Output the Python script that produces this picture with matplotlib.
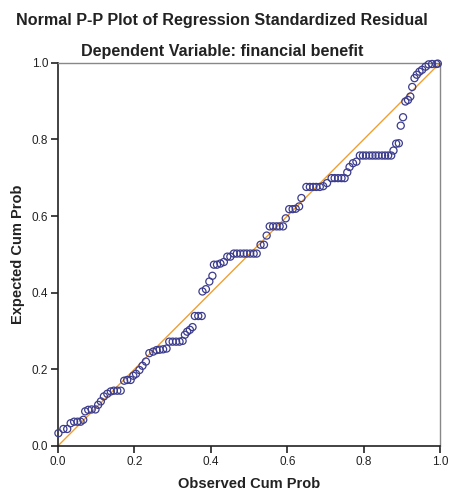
import matplotlib
matplotlib.use("Agg")
import matplotlib.pyplot as plt

plt.rcParams['font.family'] = ['Liberation Sans', 'DejaVu Sans']

# Observed cum prob (x) vs expected cum prob (y)
observed = [
    0.001, 0.014, 0.024, 0.033, 0.042, 0.051, 0.059, 0.066, 0.071, 0.079,
    0.088, 0.098, 0.105, 0.112, 0.120, 0.129, 0.138, 0.146, 0.155, 0.164,
    0.173, 0.181, 0.190, 0.197, 0.204, 0.213, 0.221, 0.230, 0.239, 0.249,
    0.258, 0.266, 0.275, 0.284, 0.291, 0.300, 0.309, 0.318, 0.326, 0.332,
    0.338, 0.345, 0.352, 0.358, 0.367, 0.376, 0.378, 0.387, 0.396, 0.404,
    0.408, 0.416, 0.425, 0.434, 0.443, 0.451, 0.460, 0.468, 0.477, 0.486,
    0.494, 0.503, 0.512, 0.520, 0.530, 0.539, 0.546, 0.554, 0.563, 0.572,
    0.580, 0.589, 0.596, 0.605, 0.614, 0.622, 0.631, 0.637, 0.650, 0.659,
    0.668, 0.676, 0.685, 0.694, 0.704, 0.716, 0.724, 0.733, 0.742, 0.750,
    0.757, 0.763, 0.772, 0.781, 0.790, 0.798, 0.806, 0.815, 0.823, 0.831,
    0.839, 0.848, 0.856, 0.864, 0.872, 0.878, 0.885, 0.892, 0.897, 0.903,
    0.909, 0.916, 0.922, 0.927, 0.933, 0.939, 0.946, 0.953, 0.962, 0.970,
    0.979, 0.990, 0.994,
]
expected = [
    0.033, 0.044, 0.044, 0.059, 0.063, 0.063, 0.063, 0.068, 0.090, 0.094,
    0.095, 0.095, 0.107, 0.116, 0.129, 0.136, 0.142, 0.144, 0.144, 0.144,
    0.170, 0.172, 0.172, 0.183, 0.188, 0.198, 0.209, 0.220, 0.242, 0.246,
    0.250, 0.251, 0.252, 0.254, 0.272, 0.272, 0.272, 0.272, 0.274, 0.290,
    0.298, 0.303, 0.310, 0.339, 0.339, 0.339, 0.403, 0.409, 0.429, 0.444,
    0.473, 0.473, 0.476, 0.480, 0.494, 0.494, 0.502, 0.502, 0.502, 0.502,
    0.502, 0.502, 0.502, 0.502, 0.525, 0.525, 0.549, 0.573, 0.573, 0.573,
    0.573, 0.573, 0.594, 0.618, 0.618, 0.619, 0.625, 0.647, 0.676, 0.676,
    0.676, 0.676, 0.676, 0.678, 0.686, 0.699, 0.699, 0.699, 0.699, 0.699,
    0.714, 0.728, 0.738, 0.742, 0.758, 0.758, 0.758, 0.758, 0.758, 0.758,
    0.758, 0.758, 0.758, 0.758, 0.758, 0.771, 0.789, 0.790, 0.836, 0.858,
    0.899, 0.903, 0.912, 0.937, 0.960, 0.969, 0.977, 0.982, 0.990, 0.996,
    0.997, 0.997, 0.998,
]
ticks = [0.0, 0.2, 0.4, 0.6, 0.8, 1.0]
tick_labels = ["0.0", "0.2", "0.4", "0.6", "0.8", "1.0"]

fig = plt.figure(figsize=(4.5, 4.91), dpi=100)
ax = fig.add_axes([0.129, 0.092, 0.849, 0.780])

# reference line
ax.plot([0, 1], [0, 1], color='#f0a030', linewidth=1.0, zorder=2)
ax.scatter(observed, expected, s=26, facecolors='none', edgecolors='#3c3c8e',
           linewidths=0.9, zorder=3, clip_on=False)

ax.set_xlim(0, 1)
ax.set_ylim(0, 1)
ax.set_xticks(ticks)
ax.set_xticklabels(tick_labels)
ax.set_yticks(ticks)
ax.set_yticklabels(tick_labels)
ax.tick_params(direction='out', length=5, width=1.2, labelsize=8.5,
               color='#222222', labelcolor='#222222', pad=2)

for side in ['left', 'bottom']:
    ax.spines[side].set_color('#222222')
    ax.spines[side].set_linewidth(1.2)
for side in ['top', 'right']:
    ax.spines[side].set_color('#888888')
    ax.spines[side].set_linewidth(1.0)

ax.set_xlabel("Observed Cum Prob", fontsize=10.5, fontweight='bold',
              color='#222222', labelpad=7)
ax.set_ylabel("Expected Cum Prob", fontsize=10.5, fontweight='bold',
              color='#222222', labelpad=5)

fig.text(0.493, 0.959, "Normal P-P Plot of Regression Standardized Residual",
         ha='center', va='center', fontsize=11.6, fontweight='bold', color='#222222')
fig.text(0.493, 0.896, "Dependent Variable: financial benefit",
         ha='center', va='center', fontsize=11.6, fontweight='bold', color='#222222')

fig.savefig("out.png", dpi=100)
